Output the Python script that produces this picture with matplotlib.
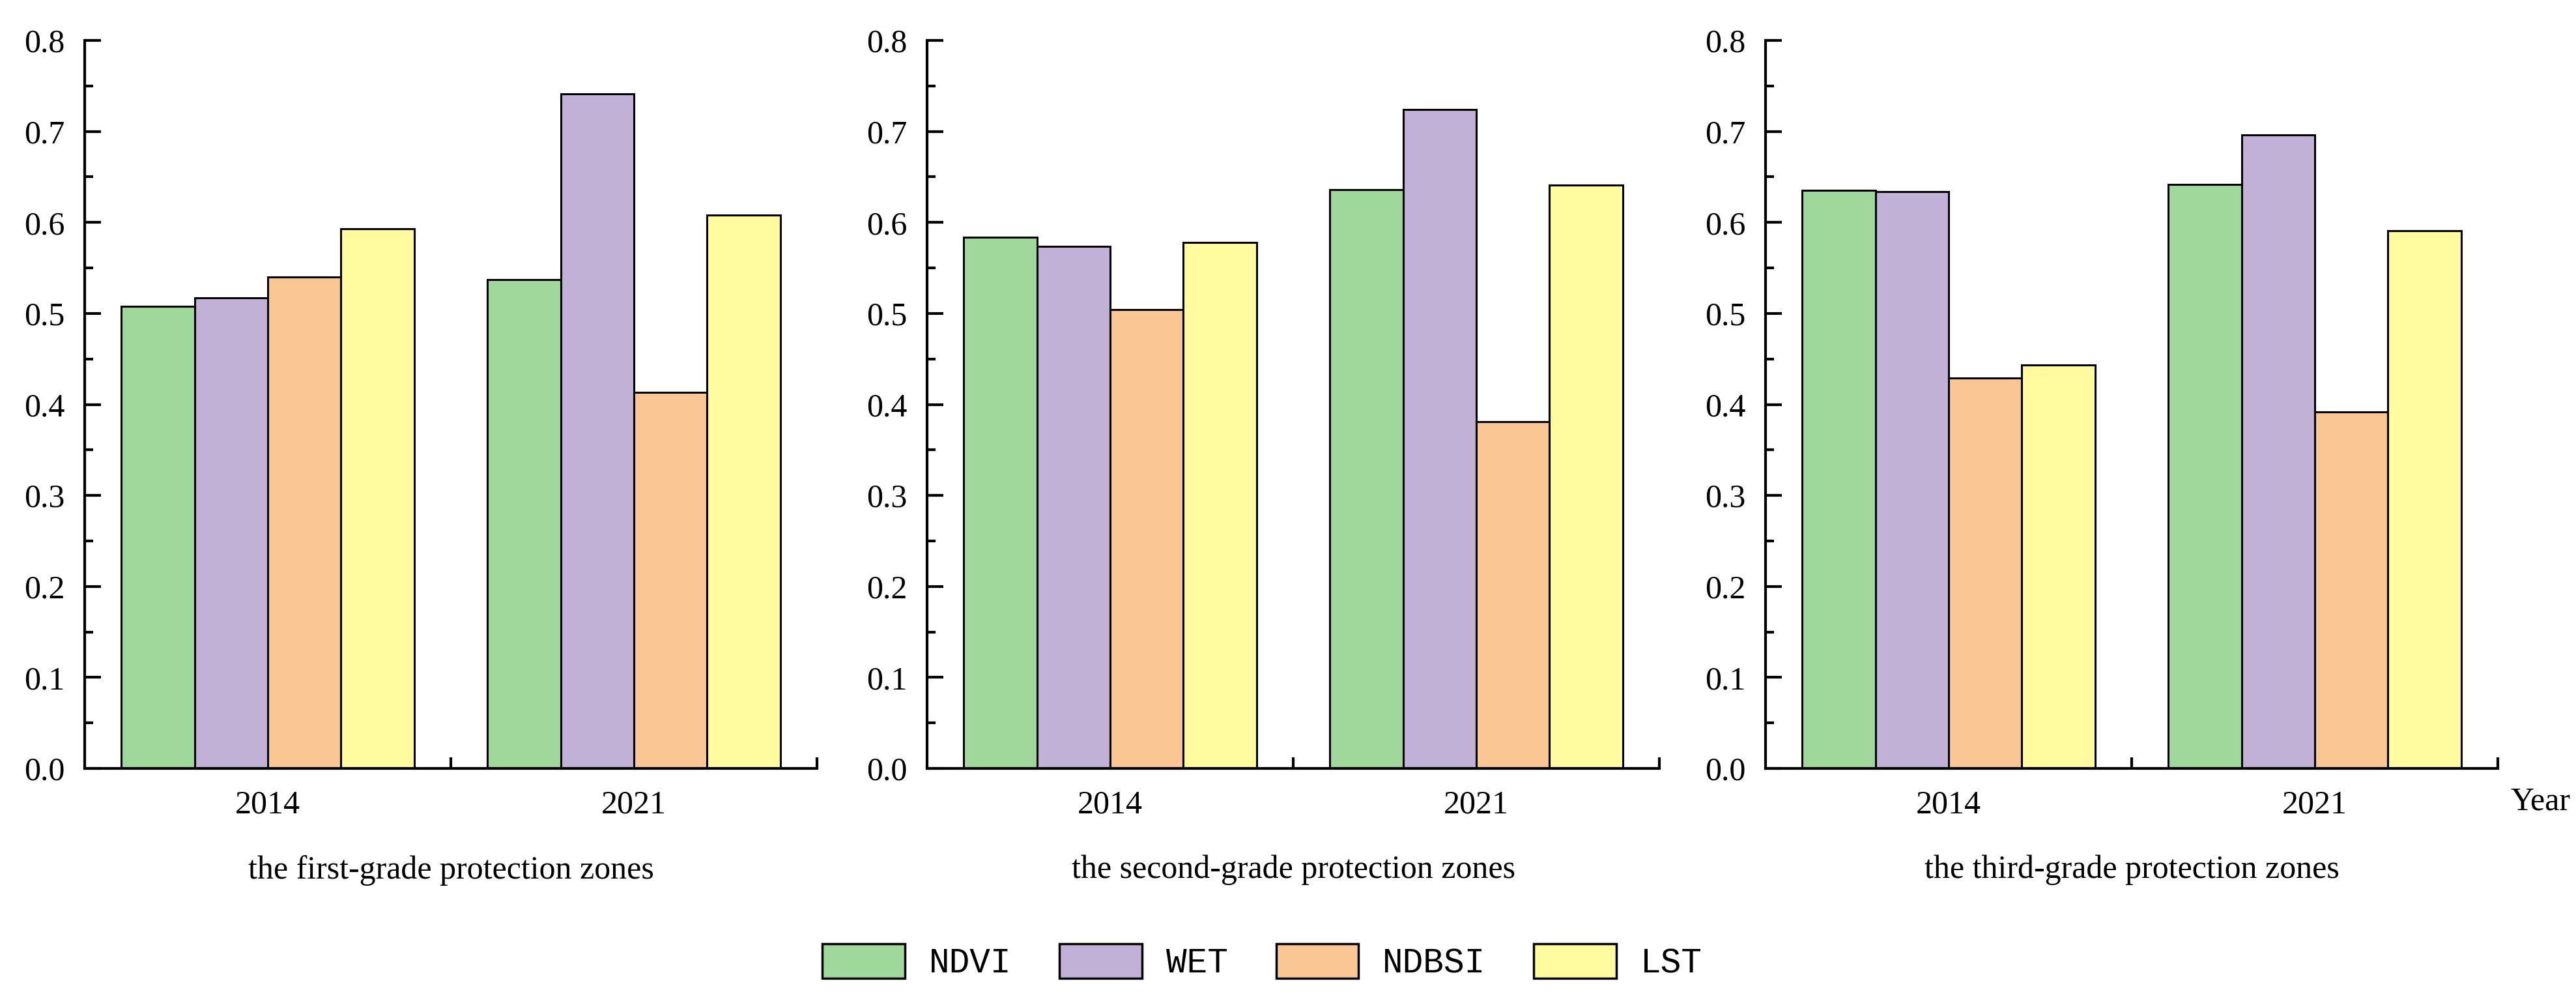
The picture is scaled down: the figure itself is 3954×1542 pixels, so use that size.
import numpy as np
import matplotlib
matplotlib.use('Agg')
import matplotlib.pyplot as plt
from matplotlib.ticker import MultipleLocator, FixedLocator
from matplotlib.patches import Patch

years = ['2014', '2021']
indices = ['NDVI', 'WET', 'NDBSI', 'LST']
zones = ['the first-grade protection zones',
         'the second-grade protection zones',
         'the third-grade protection zones']

# values per zone: rows = year, cols = index
first_zone = [[0.508, 0.517, 0.540, 0.593],
              [0.537, 0.741, 0.413, 0.608]]
second_zone = [[0.584, 0.574, 0.504, 0.578],
               [0.636, 0.724, 0.381, 0.641]]
third_zone = [[0.635, 0.634, 0.429, 0.443],
              [0.642, 0.696, 0.392, 0.591]]

colors = ['#A0D89B', '#C2B1D7', '#FAC794', '#FFFB9E']

plt.rcParams['font.family'] = ['Liberation Serif', 'DejaVu Serif']

fig = plt.figure(figsize=(39.54, 15.42), dpi=100)
lefts = [130 / 3954, 1423 / 3954, 2710 / 3954]
w = 1124 / 3954
b = (1542 - 1179) / 1542
h = 1117 / 1542

bar_w = 0.2
x = np.arange(1, len(years) + 1)
for k, (zone_vals, title) in enumerate(zip([first_zone, second_zone, third_zone], zones)):
    ax = fig.add_axes([lefts[k], b, w, h])
    vals = np.array(zone_vals)
    for i, name in enumerate(indices):
        ax.bar(x + (i - 1.5) * bar_w, vals[:, i], width=bar_w, color=colors[i],
               edgecolor='black', linewidth=2.2, zorder=2)
    ax.set_xlim(0.5, 2.5)
    ax.set_ylim(0, 0.8)
    for s in ['top', 'right']:
        ax.spines[s].set_visible(False)
    for s in ['left', 'bottom']:
        ax.spines[s].set_linewidth(3)
        ax.spines[s].set_zorder(3)
    ax.yaxis.set_major_locator(MultipleLocator(0.1))
    ax.yaxis.set_minor_locator(MultipleLocator(0.05))
    ax.yaxis.set_major_formatter(plt.FormatStrFormatter('%.1f'))
    ax.tick_params(axis='y', which='major', direction='in', length=18, width=3,
                   labelsize=36, pad=22)
    ax.tick_params(axis='y', which='minor', direction='in', length=9, width=3)
    ax.set_xticks(x)
    ax.set_xticklabels(years)
    ax.xaxis.set_minor_locator(FixedLocator([1.5, 2.5]))
    ax.tick_params(axis='x', which='major', length=0, labelsize=36, pad=24)
    ax.tick_params(axis='x', which='minor', direction='in', length=12, width=3)
    ax.set_xlabel(title, fontsize=36, labelpad=38)
    if k == 2:
        ax.text(1.058, -0.046, 'Year', transform=ax.transAxes, fontsize=36,
                ha='center', va='center')

handles = [Patch(facecolor=c, edgecolor='black', linewidth=2.5) for c in colors]
fig.legend(handles, indices, loc='center', bbox_to_anchor=(0.49, 0.043), ncol=4,
           frameon=False, prop={'family': 'Liberation Mono', 'size': 38},
           handlelength=2.4, handleheight=1.15, handletextpad=0.7, columnspacing=1.4)

fig.savefig('out.png', dpi=100)
